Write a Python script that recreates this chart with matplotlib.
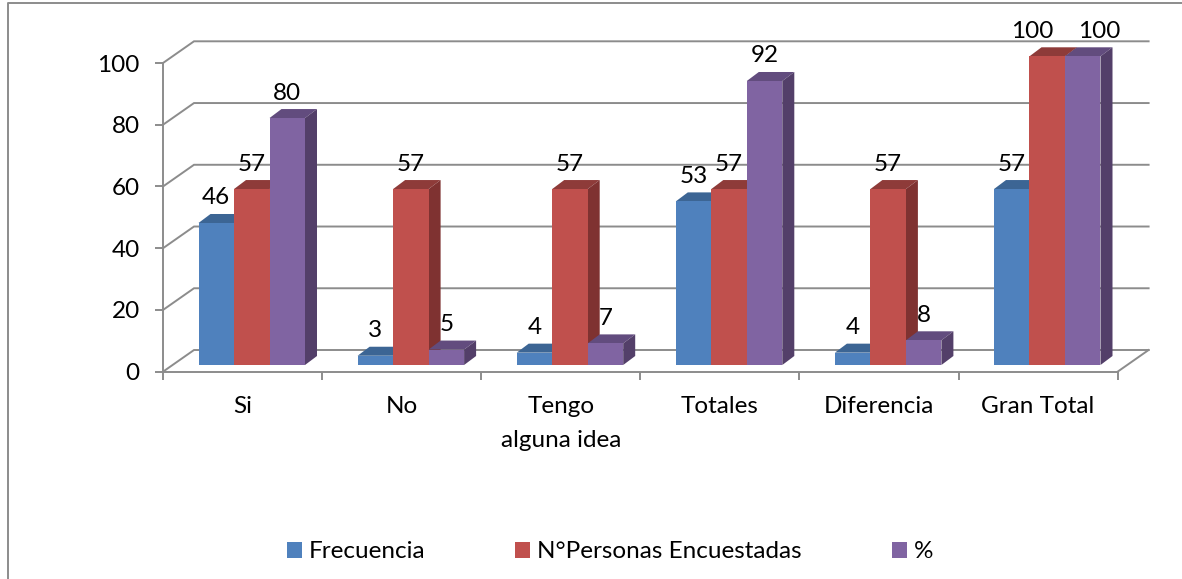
import matplotlib
matplotlib.use('Agg')
import matplotlib.pyplot as plt
from matplotlib.lines import Line2D
from matplotlib.patches import Patch

plt.rcParams['font.family'] = ['Lato', 'DejaVu Sans']

# datos
categorias = ['Si', 'No', 'Tengo\nalguna idea', 'Totales', 'Diferencia', 'Gran Total']
frecuencia = [46, 3, 4, 53, 4, 57]
encuestadas = [57, 57, 57, 57, 57, 100]
porcentaje = [80, 5, 7, 92, 8, 100]
y_ticks = [0, 20, 40, 60, 80, 100]

series = [frecuencia, encuestadas, porcentaje]
nombres = ['Frecuencia', 'N°Personas Encuestadas', '%']
colores = ['#4F81BD', '#C0504D', '#8064A2']
col_arriba = ['#3C6594', '#8E3B39', '#624C7E']
col_lado = ['#355A85', '#7F3231', '#533F69']

W, H = 1182, 579
fs = 17.5
fig = plt.figure(figsize=(W / 100, H / 100), dpi=100)

# ejes en pixeles de la imagen: frente 163..1118, fondo hasta 1149 / y 0 en 371.7, 100 en 63
px_cat = 159.1
px_val = 3.087
ax = fig.add_axes([163 / W, 1 - 371.7 / H, 986 / W, 330.7 / H])
ax.set_xlim(-0.5, -0.5 + 986 / px_cat)
ax.set_ylim(0, 330.7 / px_val)
ax.patch.set_visible(False)

gris = '#8C8C8C'
fondo_x = 31 / px_cat
fondo_y = 21.7 / px_val
x0, x1 = -0.5, 5.5

# paredes
for v in y_ticks:
    ax.plot([x0, x0 + fondo_x, x1 + fondo_x], [v, v + fondo_y, v + fondo_y],
            color=gris, lw=1.4, zorder=1, clip_on=False, solid_joinstyle='miter')
ax.plot([x1, x1 + fondo_x], [0, fondo_y], color=gris, lw=1.4, zorder=1, clip_on=False)

# barras
ancho = 35.5 / px_cat
despl_x = 9.2 / px_cat
base = 6.7 / px_val
prof_x = 12 / px_cat
prof_y = 9 / px_val

for s in range(3):
    xs = [i + despl_x + (s - 1) * ancho for i in range(len(categorias))]
    for x, v in zip(xs, series[s]):
        izq, der = x - ancho / 2, x + ancho / 2
        techo = v + base
        ax.fill([izq, der, der + prof_x, izq + prof_x],
                [techo, techo, techo + prof_y, techo + prof_y],
                color=col_arriba[s], lw=0, zorder=2 + s, clip_on=False)
        ax.fill([der, der + prof_x, der + prof_x, der],
                [base, base + prof_y, techo + prof_y, techo],
                color=col_lado[s], lw=0, zorder=2 + s, clip_on=False)
    ax.bar(xs, series[s], ancho, bottom=base, color=colores[s], lw=0, zorder=2 + s, clip_on=False)

# etiquetas de datos
for s in range(3):
    for i, v in enumerate(series[s]):
        x = i + despl_x + (s - 1) * ancho
        if v == 100 and s == 1:
            x -= 15 / px_cat
        if v == 100 and s == 2:
            x += 16 / px_cat
        ax.text(x, v + base + 25 / px_val, str(v), ha='center', va='center',
                fontsize=fs, color='black', zorder=10, clip_on=False)

# ejes
for lado in ['top', 'right']:
    ax.spines[lado].set_visible(False)
for lado in ['left', 'bottom']:
    ax.spines[lado].set_color(gris)
    ax.spines[lado].set_linewidth(1.4)
ax.spines['left'].set_bounds(0, 100)
ax.spines['bottom'].set_bounds(x0, x1)

ax.set_yticks(y_ticks)
ax.set_xticks([x0 + i for i in range(7)])
ax.set_xticklabels([])
ax.set_xticks(range(6), minor=True)
ax.set_xticklabels(categorias, minor=True, fontsize=fs, linespacing=1.75)
ax.tick_params(axis='x', which='major', length=5.8, width=1.4, color=gris)
ax.tick_params(axis='x', which='minor', length=0, pad=17.5)
ax.tick_params(axis='y', length=5.8, width=1.4, color=gris, labelsize=fs, pad=11)

# leyenda
marcas = [Patch(facecolor=c, lw=0) for c in colores]
fig.legend(marcas, nombres, loc='center', bbox_to_anchor=(610 / W, 1 - 552 / H), ncol=3,
           frameon=False, fontsize=fs, handlelength=0.62, handleheight=0.62,
           handletextpad=0.29, columnspacing=3.7, borderpad=0)

# marco
fig.add_artist(Line2D([8 / W, 8 / W, 1], [0, 1 - 3 / H, 1 - 3 / H], color=gris, lw=1.4))

plt.savefig('out.png', dpi=100)
